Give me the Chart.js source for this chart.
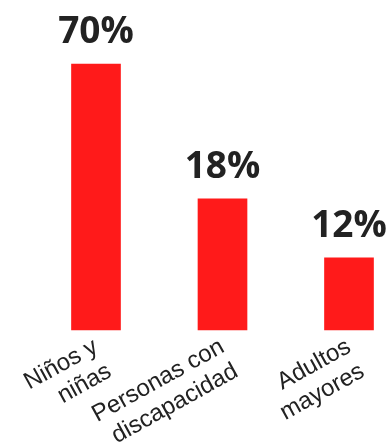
<!DOCTYPE html>
<html lang="es">
<head>
    <meta charset="UTF-8">
    <title>Grupos</title>
    <script src="https://cdn.jsdelivr.net/npm/chart.js@4.4.1/dist/chart.umd.min.js"></script>
    <style>
        body { margin: 0; background: #fff; overflow: hidden; }
        #wrap { width: 389px; height: 447px; }
    </style>
</head>
<body>
<div id="wrap"><canvas id="chart" width="389" height="447"></canvas></div>
<script>
  const categories = [['Niños y', 'niñas'], ['Personas con', 'discapacidad'], ['Adultos', 'mayores']];
  // bar heights as drawn in the original (not to scale with the printed percentages)
  const barValues = [70, 34.5, 19];
  const percentLabels = ['70%', '18%', '12%'];

  const barColor = '#ff1a1a';
  const textColor = '#222222';

  const valueLabels = {
    id: 'valueLabels',
    afterDatasetsDraw(chart) {
      const ctx = chart.ctx;
      const meta = chart.getDatasetMeta(0);
      ctx.save();
      ctx.font = 'bold 37px "Open Sans"';
      ctx.fillStyle = textColor;
      ctx.textAlign = 'center';
      ctx.textBaseline = 'alphabetic';
      meta.data.forEach((bar, i) => {
        ctx.fillText(percentLabels[i], bar.x, bar.y - 21);
      });
      ctx.restore();
    }
  };

  new Chart(document.getElementById('chart'), {
    type: 'bar',
    data: {
      labels: categories,
      datasets: [{
        data: barValues,
        backgroundColor: barColor,
        barThickness: 49,
        clip: false
      }]
    },
    options: {
      responsive: false,
      animation: false,
      layout: { padding: { top: 64, left: 96, right: 40, bottom: 0 } },
      plugins: { legend: { display: false }, tooltip: { enabled: false } },
      scales: {
        x: {
          offset: false,
          grid: { display: false },
          border: { display: false },
          afterFit: s => { s.height = 117; },
          ticks: {
            autoSkip: false,
            maxRotation: 29,
            minRotation: 29,
            color: textColor,
            padding: -5,
            font: { family: '"Liberation Sans", Arial, sans-serif', size: 24, lineHeight: 1.17 }
          }
        },
        y: {
          display: false,
          min: 0,
          max: 70
        }
      }
    },
    plugins: [valueLabels]
  });
</script>
</body>
</html>
